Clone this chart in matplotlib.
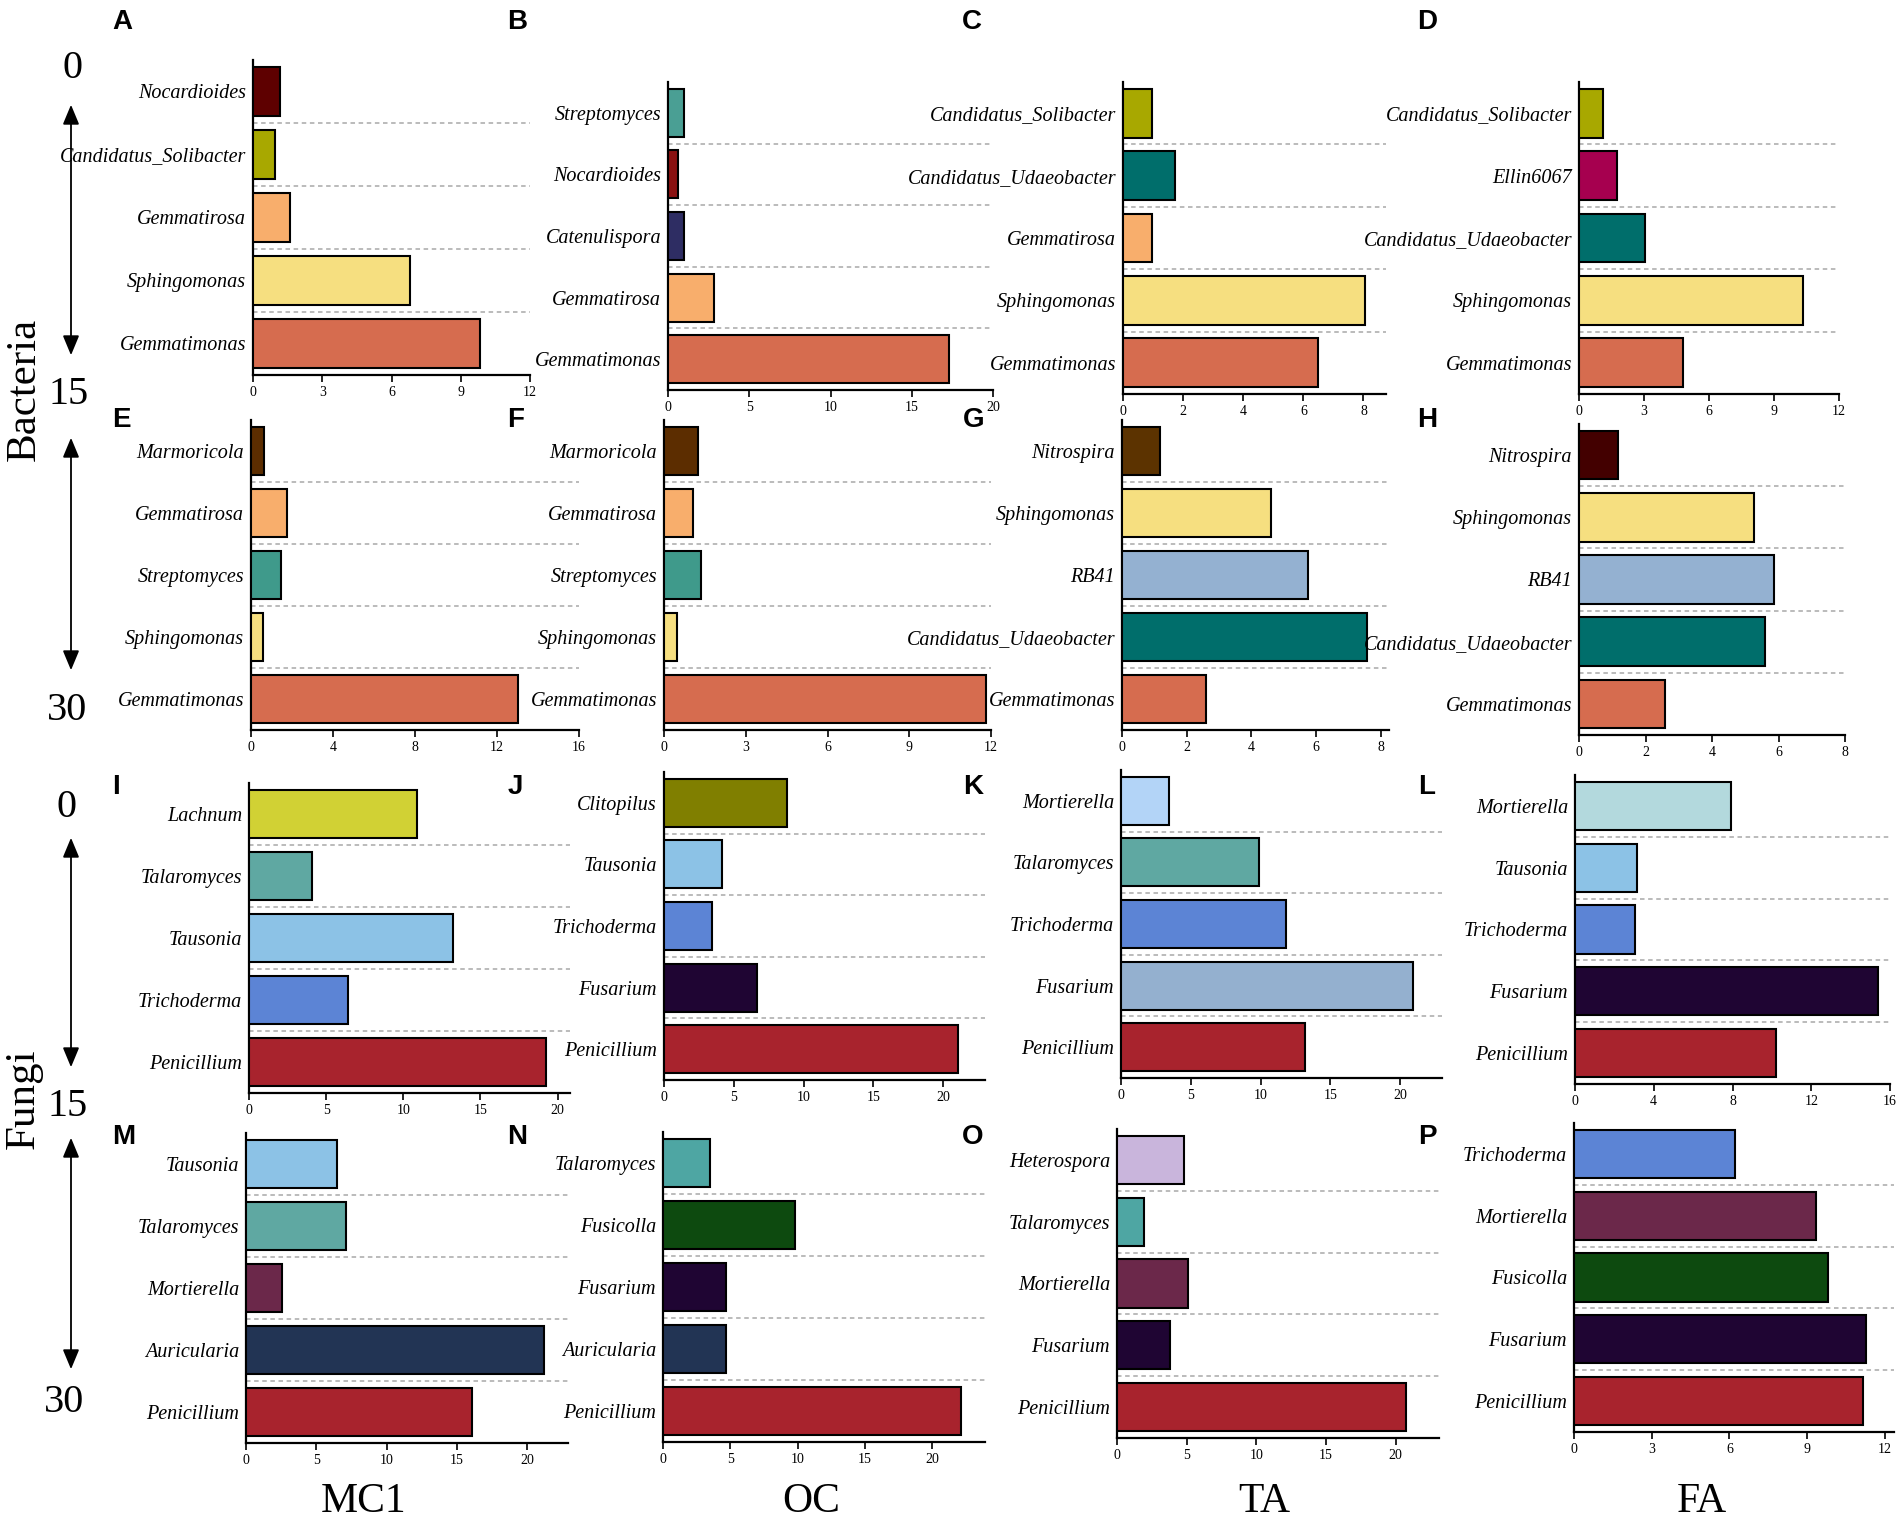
import matplotlib.pyplot as plt

# genus lists are top -> bottom as in the figure
A_genus = ['Nocardioides', 'Candidatus_Solibacter', 'Gemmatirosa', 'Sphingomonas', 'Gemmatimonas']
A_abund = [1.17, 0.95, 1.62, 6.81, 9.83]
B_genus = ['Streptomyces', 'Nocardioides', 'Catenulispora', 'Gemmatirosa', 'Gemmatimonas']
B_abund = [1.0, 0.6, 1.0, 2.8, 17.3]
C_genus = ['Candidatus_Solibacter', 'Candidatus_Udaeobacter', 'Gemmatirosa', 'Sphingomonas', 'Gemmatimonas']
C_abund = [0.96, 1.74, 0.96, 8.06, 6.48]
D_genus = ['Candidatus_Solibacter', 'Ellin6067', 'Candidatus_Udaeobacter', 'Sphingomonas', 'Gemmatimonas']
D_abund = [1.13, 1.76, 3.03, 10.34, 4.82]

E_genus = ['Marmoricola', 'Gemmatirosa', 'Streptomyces', 'Sphingomonas', 'Gemmatimonas']
E_abund = [0.65, 1.78, 1.44, 0.58, 13.0]
F_genus = ['Marmoricola', 'Gemmatirosa', 'Streptomyces', 'Sphingomonas', 'Gemmatimonas']
F_abund = [1.26, 1.06, 1.37, 0.49, 11.83]
G_genus = ['Nitrospira', 'Sphingomonas', 'RB41', 'Candidatus_Udaeobacter', 'Gemmatimonas']
G_abund = [1.17, 4.6, 5.75, 7.57, 2.61]
H_genus = ['Nitrospira', 'Sphingomonas', 'RB41', 'Candidatus_Udaeobacter', 'Gemmatimonas']
H_abund = [1.18, 5.25, 5.85, 5.6, 2.58]

I_genus = ['Lachnum', 'Talaromyces', 'Tausonia', 'Trichoderma', 'Penicillium']
I_abund = [10.87, 4.09, 13.2, 6.4, 19.26]
J_genus = ['Clitopilus', 'Tausonia', 'Trichoderma', 'Fusarium', 'Penicillium']
J_abund = [8.79, 4.16, 3.43, 6.64, 21.05]
K_genus = ['Mortierella', 'Talaromyces', 'Trichoderma', 'Fusarium', 'Penicillium']
K_abund = [3.45, 9.9, 11.8, 20.9, 13.2]
L_genus = ['Mortierella', 'Tausonia', 'Trichoderma', 'Fusarium', 'Penicillium']
L_abund = [7.94, 3.15, 3.05, 15.4, 10.2]

M_genus = ['Tausonia', 'Talaromyces', 'Mortierella', 'Auricularia', 'Penicillium']
M_abund = [6.5, 7.14, 2.55, 21.2, 16.1]
N_genus = ['Talaromyces', 'Fusicolla', 'Fusarium', 'Auricularia', 'Penicillium']
N_abund = [3.5, 9.8, 4.64, 4.64, 22.1]
O_genus = ['Heterospora', 'Talaromyces', 'Mortierella', 'Fusarium', 'Penicillium']
O_abund = [4.83, 1.94, 5.09, 3.79, 20.7]
P_genus = ['Trichoderma', 'Mortierella', 'Fusicolla', 'Fusarium', 'Penicillium']
P_abund = [6.2, 9.35, 9.8, 11.28, 11.16]

treatments = ['MC1', 'OC', 'TA', 'FA']

# colours
solib, udaeo, gtrosa, sphing, gmonas = '#a8a800', '#006e6b', '#f8ae6c', '#f6df80', '#d66c4f'
tala, taus, trich, peni, fus = '#5fa8a2', '#8cc2e6', '#5c84d5', '#a8232d', '#1f0533'
mort, auric, fusic = '#6b284a', '#223454', '#0d4a0f'
A_cols = ['#5e0000', solib, gtrosa, sphing, gmonas]
B_cols = ['#4a9f94', '#8a1111', '#2e2d63', gtrosa, gmonas]
C_cols = [solib, udaeo, gtrosa, sphing, gmonas]
D_cols = [solib, '#a6004f', udaeo, sphing, gmonas]
E_cols = ['#5c2d00', gtrosa, '#3f9a8b', sphing, gmonas]
F_cols = E_cols
G_cols = ['#5c3300', sphing, '#94b1d1', udaeo, gmonas]
H_cols = ['#430000', sphing, '#94b1d1', udaeo, gmonas]
I_cols = ['#d1d134', tala, taus, trich, peni]
J_cols = ['#807f00', taus, trich, fus, peni]
K_cols = ['#b3d4f7', tala, trich, '#94b0cf', peni]
L_cols = ['#b3d9dd', taus, trich, fus, peni]
M_cols = [taus, tala, mort, auric, peni]
N_cols = ['#4ea6a3', fusic, fus, auric, peni]
O_cols = ['#c9b5dc', '#4ea6a3', mort, fus, peni]
P_cols = [trich, mort, fusic, fus, peni]

W, H = 1904, 1521
fig = plt.figure(figsize=(W / 100, H / 100), dpi=100)


def box(x0, top, x1, bottom):
    return [x0 / W, 1 - bottom / H, (x1 - x0) / W, (bottom - top) / H]


# letter, genus, values, colours, xmax, ticks, (left, top, right, bottom), letter pos
panels = [
    ('A', A_genus, A_abund, A_cols, 12, [0, 3, 6, 9, 12], (253, 60, 530, 375), (122, 22)),
    ('B', B_genus, B_abund, B_cols, 20, [0, 5, 10, 15, 20], (668, 82, 993, 390), (517, 22)),
    ('C', C_genus, C_abund, C_cols, 8.75, [0, 2, 4, 6, 8], (1123, 82, 1386, 394), (972, 22)),
    ('D', D_genus, D_abund, D_cols, 12, [0, 3, 6, 9, 12], (1579, 82, 1839, 394), (1427, 22)),
    ('E', E_genus, E_abund, E_cols, 16, [0, 4, 8, 12, 16], (251, 420, 579, 730), (121, 420)),
    ('F', F_genus, F_abund, F_cols, 12, [0, 3, 6, 9, 12], (664, 420, 991, 730), (516, 420)),
    ('G', G_genus, G_abund, G_cols, 8.25, [0, 2, 4, 6, 8], (1122, 420, 1389, 730), (974, 420)),
    ('H', H_genus, H_abund, H_cols, 8, [0, 2, 4, 6, 8], (1579, 424, 1845, 735), (1427, 420)),
    ('I', I_genus, I_abund, I_cols, 20.8, [0, 5, 10, 15, 20], (249, 783, 570, 1093), (116, 787)),
    ('J', J_genus, J_abund, J_cols, 23, [0, 5, 10, 15, 20], (664, 772, 985, 1080), (515, 787)),
    ('K', K_genus, K_abund, K_cols, 23, [0, 5, 10, 15, 20], (1121, 770, 1442, 1078), (973, 787)),
    ('L', L_genus, L_abund, L_cols, 16, [0, 4, 8, 12, 16], (1575, 775, 1890, 1084), (1427, 787)),
    ('M', M_genus, M_abund, M_cols, 22.9, [0, 5, 10, 15, 20], (246, 1133, 568, 1443), (124, 1137)),
    ('N', N_genus, N_abund, N_cols, 23.9, [0, 5, 10, 15, 20], (663, 1132, 985, 1442), (517, 1137)),
    ('O', O_genus, O_abund, O_cols, 23.1, [0, 5, 10, 15, 20], (1117, 1129, 1439, 1438), (973, 1137)),
    ('P', P_genus, P_abund, P_cols, 12.35, [0, 3, 6, 9, 12], (1574, 1123, 1894, 1432), (1427, 1137)),
]

for letter, genus, vals, cols, xmax, ticks, bx, lpos in panels:
    ax = fig.add_axes(box(*bx))
    ypos = list(range(len(genus)))
    ax.barh(ypos, vals, height=0.78, color=cols, edgecolor='black', linewidth=1.5, zorder=3)
    for k in range(len(genus) - 1):
        ax.axhline(k + 0.5, color='#b5b5b5', lw=1.3, ls=(0, (2.5, 2)), zorder=1)
    ax.set_ylim(len(genus) - 0.5, -0.5)
    ax.set_xlim(0, xmax)
    ax.set_yticks(ypos)
    ax.set_yticklabels(genus, fontfamily='Liberation Serif', fontstyle='italic', fontsize=14.5)
    ax.set_xticks(ticks)
    ax.set_xticklabels([str(t) for t in ticks], fontfamily='Liberation Serif', fontsize=10)
    ax.tick_params(axis='y', length=0, pad=5)
    ax.tick_params(axis='x', length=5, width=1.2, pad=3)
    for s in ['top', 'right']:
        ax.spines[s].set_visible(False)
    for s in ['left', 'bottom']:
        ax.spines[s].set_linewidth(1.6)
    fig.text(lpos[0] / W, 1 - lpos[1] / H, letter, fontsize=20, fontweight='bold',
             fontfamily='Liberation Sans', ha='center', va='center')

# left side: kingdom labels, depth labels and arrows
serif = 'Liberation Serif'
fig.text(24 / W, 1 - 389 / H, 'Bacteria', rotation=90, fontsize=31, fontfamily=serif,
         ha='center', va='center')
fig.text(24 / W, 1 - 1099 / H, 'Fungi', rotation=90, fontsize=31, fontfamily=serif,
         ha='center', va='center')
depth_labels = [('0', 73, 69), ('15', 69, 395), ('30', 67, 710),
                ('0', 67, 807), ('15', 68, 1107), ('30', 64, 1402)]
for txt, x, y in depth_labels:
    fig.text(x / W, 1 - y / H, txt, fontsize=29, fontfamily=serif, ha='center', va='center')
arrow_spans = [(102, 358), (435, 673), (835, 1070), (1135, 1372)]
for y0, y1 in arrow_spans:
    fig.add_artist(plt.matplotlib.patches.FancyArrowPatch(
        (71 / W, 1 - y0 / H), (71 / W, 1 - y1 / H), transform=fig.transFigure,
        arrowstyle='<|-|>,head_length=12,head_width=5', color='black', lw=1.3))

col_x = [364, 811, 1264, 1702]
for name, x in zip(treatments, col_x):
    fig.text(x / W, 1 - 1502 / H, name, fontsize=30, fontfamily=serif, ha='center', va='center')

fig.savefig('out.png', dpi=100)
